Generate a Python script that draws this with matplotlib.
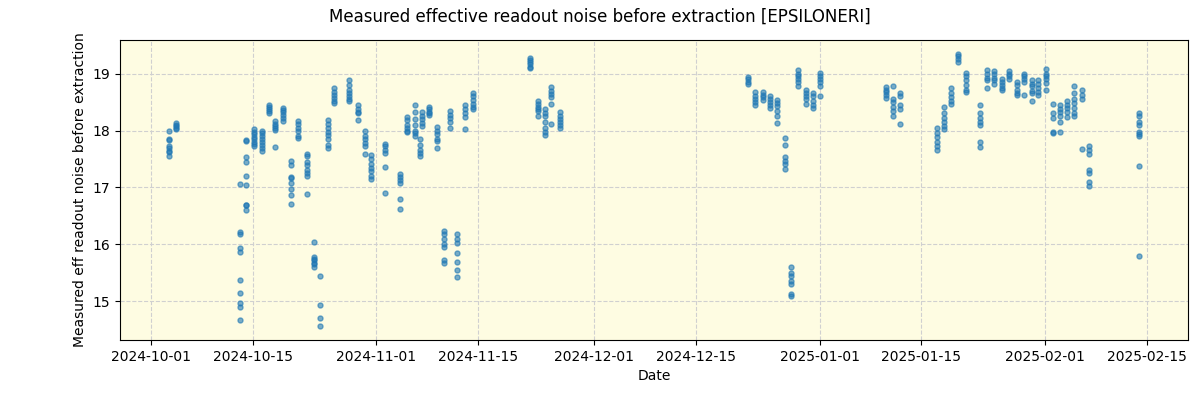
import matplotlib
matplotlib.use("Agg")
import matplotlib.pyplot as plt
import matplotlib.dates as mdates
import pandas as pd

obs_dates = [
    "2024-10-03 10:00", "2024-10-04 10:00", "2024-10-13 07:00", "2024-10-14 02:00",
    "2024-10-15 05:00", "2024-10-16 05:00", "2024-10-17 05:00", "2024-10-18 02:00",
    "2024-10-19 05:00", "2024-10-20 05:00", "2024-10-21 07:00", "2024-10-22 10:00",
    "2024-10-23 10:00", "2024-10-24 07:00", "2024-10-25 07:00", "2024-10-26 05:00",
    "2024-10-28 07:00", "2024-10-29 10:00", "2024-10-30 10:00", "2024-10-31 07:00",
    "2024-11-02 05:00", "2024-11-04 05:00", "2024-11-05 07:00", "2024-11-06 07:00",
    "2024-11-07 00:00", "2024-11-07 07:00", "2024-11-08 05:00", "2024-11-09 10:00",
    "2024-11-10 07:00", "2024-11-11 05:00", "2024-11-12 02:00", "2024-11-13 05:00",
    "2024-11-14 07:00", "2024-11-22 02:00", "2024-11-23 07:00", "2024-11-24 05:00",
    "2024-11-25 02:00", "2024-11-26 05:00", "2024-12-22 02:00", "2024-12-23 02:00",
    "2024-12-24 05:00", "2024-12-25 05:00", "2024-12-26 02:00", "2024-12-27 05:00",
    "2024-12-28 00:00", "2024-12-29 00:00", "2024-12-30 02:00", "2024-12-31 02:00",
    "2025-01-01 02:00", "2025-01-10 02:00", "2025-01-11 02:00", "2025-01-12 02:00",
    "2025-01-17 02:00", "2025-01-18 02:00", "2025-01-19 02:00", "2025-01-20 02:00",
    "2025-01-21 02:00", "2025-01-23 02:00", "2025-01-24 02:00", "2025-01-25 00:00",
    "2025-01-26 02:00", "2025-01-27 02:00", "2025-01-28 02:00", "2025-01-29 02:00",
    "2025-01-30 05:00", "2025-01-31 02:00", "2025-02-01 02:00", "2025-02-02 02:00",
    "2025-02-03 02:00", "2025-02-04 02:00", "2025-02-05 00:00", "2025-02-06 02:00",
    "2025-02-07 02:00", "2025-02-14 00:00",
]

noise_values = [
    [18.0, 17.85, 17.84, 17.73, 17.69, 17.64, 17.63, 17.56],
    [18.13, 18.1, 18.08, 18.05, 18.03],
    [17.06, 16.21, 16.18, 15.93, 15.86, 15.37, 15.15, 14.97, 14.90, 14.68],
    [17.84, 17.81, 17.53, 17.44, 17.20, 17.04, 16.70, 16.69, 16.60],
    [18.03, 17.98, 17.93, 17.88, 17.85, 17.8, 17.76, 17.73],
    [18.0, 17.95, 17.9, 17.85, 17.8, 17.75, 17.7, 17.64],
    [18.45, 18.42, 18.38, 18.35, 18.3],
    [18.17, 18.12, 18.08, 18.04, 18.01, 17.71],
    [18.40, 18.36, 18.32, 18.27, 18.22, 18.16],
    [17.47, 17.39, 17.18, 17.16, 17.08, 16.97, 16.86, 16.71],
    [18.17, 18.12, 18.05, 18.0, 17.9, 17.87],
    [17.59, 17.55, 17.45, 17.4, 17.3, 17.25, 17.2, 16.88],
    [16.04, 15.78, 15.75, 15.72, 15.68, 15.65, 15.6],
    [15.44, 14.94, 14.70, 14.56],
    [18.19, 18.12, 18.05, 17.98, 17.92, 17.85, 17.75, 17.69],
    [18.74, 18.68, 18.62, 18.57, 18.52, 18.49],
    [18.88, 18.8, 18.72, 18.66, 18.6, 18.55, 18.51],
    [18.44, 18.38, 18.33, 18.3, 18.19],
    [18.0, 17.9, 17.85, 17.78, 17.73, 17.59],
    [17.57, 17.5, 17.42, 17.35, 17.28, 17.2, 17.14],
    [17.77, 17.72, 17.65, 17.6, 17.36, 16.9],
    [17.24, 17.19, 17.13, 17.08, 16.79, 16.62],
    [18.24, 18.18, 18.1, 18.05, 18.0, 17.97],
    [18.45, 18.32, 18.2, 18.1, 18.0, 17.95, 17.91],
    [17.85, 17.75, 17.65, 17.6, 17.55],
    [18.32, 18.25, 18.2, 18.13, 18.08],
    [18.41, 18.37, 18.33, 18.3, 18.27],
    [18.07, 18.0, 17.93, 17.85, 17.82, 17.69],
    [16.24, 16.18, 16.1, 16.0, 15.95, 15.72, 15.68],
    [18.34, 18.28, 18.22, 18.15, 18.04],
    [16.18, 16.1, 16.02, 15.85, 15.69, 15.55, 15.42],
    [18.45, 18.38, 18.3, 18.24, 18.02],
    [18.66, 18.6, 18.53, 18.47, 18.42, 18.37],
    [19.28, 19.24, 19.2, 19.16, 19.12, 19.09],
    [18.51, 18.46, 18.42, 18.38, 18.34, 18.25],
    [18.37, 18.3, 18.25, 18.15, 18.05, 17.98, 17.92],
    [18.76, 18.7, 18.64, 18.58, 18.47, 18.11],
    [18.32, 18.25, 18.2, 18.15, 18.1, 18.05],
    [18.94, 18.9, 18.86, 18.82],
    [18.67, 18.6, 18.55, 18.5, 18.44],
    [18.67, 18.62, 18.58, 18.53],
    [18.61, 18.55, 18.5, 18.45, 18.4],
    [18.54, 18.48, 18.43, 18.35, 18.26, 18.14],
    [17.87, 17.74, 17.53, 17.47, 17.41, 17.32],
    [15.6, 15.5, 15.45, 15.35, 15.3, 15.13, 15.1],
    [19.06, 19.0, 18.95, 18.9, 18.85, 18.79],
    [18.71, 18.65, 18.6, 18.55, 18.47],
    [18.66, 18.6, 18.52, 18.45, 18.4],
    [19.01, 18.96, 18.9, 18.85, 18.78, 18.61],
    [18.77, 18.72, 18.67, 18.62, 18.57],
    [18.79, 18.56, 18.5, 18.42, 18.35, 18.25],
    [18.65, 18.6, 18.45, 18.38, 18.11],
    [18.04, 17.95, 17.88, 17.8, 17.72, 17.65],
    [18.41, 18.3, 18.22, 18.15, 18.08, 18.03],
    [18.74, 18.65, 18.58, 18.52, 18.46],
    [19.35, 19.3, 19.25, 19.2],
    [19.01, 18.95, 18.88, 18.8, 18.72, 18.68],
    [18.44, 18.3, 18.22, 18.15, 18.1, 17.8, 17.71],
    [19.06, 19.0, 18.92, 18.88, 18.75],
    [19.05, 19.0, 18.93, 18.88, 18.82],
    [18.91, 18.86, 18.8, 18.75, 18.72],
    [19.04, 19.0, 18.95, 18.9],
    [18.85, 18.8, 18.72, 18.66, 18.63],
    [19.0, 18.95, 18.9, 18.86, 18.63],
    [18.88, 18.82, 18.78, 18.7, 18.65, 18.52],
    [18.88, 18.82, 18.75, 18.68, 18.63],
    [19.08, 19.0, 18.95, 18.9, 18.83, 18.72],
    [18.47, 18.31, 18.22, 17.98, 17.96],
    [18.45, 18.38, 18.32, 18.25, 18.15, 17.97],
    [18.51, 18.45, 18.4, 18.32, 18.24],
    [18.78, 18.65, 18.55, 18.48, 18.4, 18.3, 18.25],
    [18.71, 18.62, 18.55, 17.67],
    [17.72, 17.65, 17.58, 17.3, 17.25, 17.1, 17.03],
    [18.3, 18.25, 18.15, 18.1, 17.98, 17.93, 17.9, 17.38, 15.79],
]

xs, ys = [], []
for d, vals in zip(obs_dates, noise_values):
    for v in vals:
        xs.append(pd.Timestamp(d))
        ys.append(v)

fig = plt.figure(figsize=(12, 4), dpi=100)
ax = fig.add_axes([0.1, 0.15, 0.89, 0.75])
ax.set_facecolor("#fefce2")
ax.scatter(xs, ys, s=13, color="#1f77b4", alpha=0.6, zorder=3)
ax.grid(True, linestyle="--", color="#d0d0d0", linewidth=0.8, zorder=0)
ax.set_axisbelow(True)
ax.set_xlabel("Date")
ax.set_ylabel("Measured eff readout noise before extraction")
fig.suptitle("Measured effective readout noise before extraction [EPSILONERI]", fontsize=12)

ticks = pd.to_datetime(["2024-10-01", "2024-10-15", "2024-11-01", "2024-11-15", "2024-12-01",
                        "2024-12-15", "2025-01-01", "2025-01-15", "2025-02-01", "2025-02-15"])
ax.set_xticks(ticks)
ax.xaxis.set_major_formatter(mdates.DateFormatter("%Y-%m-%d"))

fig.savefig("out.png")
